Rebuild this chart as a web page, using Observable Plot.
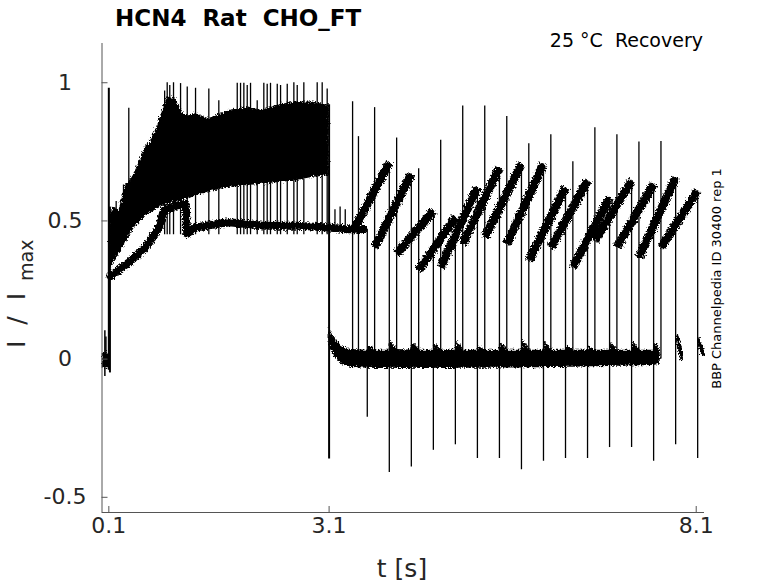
<!DOCTYPE html>
<html><head><meta charset="utf-8">
<script src="https://cdn.jsdelivr.net/npm/d3@7"></script>
<script src="https://cdn.jsdelivr.net/npm/@observablehq/plot@0.6"></script>
<style>body{margin:0;background:#fff} svg{display:block}</style>
</head><body><div id="chart"></div>
<script>
// ---------- axes ----------
const xTicks = [0.1, 3.1, 8.1];
const yTicks = [-0.5, 0, 0.5, 1];
const xDomain = [0.007, 8.213];
const yDomain = [-0.555, 1.142];

// ---------- holding baseline before the step ----------
const preT     = [0.01, 0.04, 0.07, 0.10, 0.115];
const preUpper = [0.02, 0.02, 0.025, 0.02, 0.02];
const preLower = [-0.03, -0.035, -0.03, -0.035, -0.03];
const preSpikeT    = [0.046, 0.06];
const preSpikeLow  = [-0.063, -0.03];
const preSpikeHigh = [0.103, 0.08];

// onset transients at the activating step
const onsetT    = [0.10, 0.115];
const onsetLow  = [-0.04, -0.05];
const onsetHigh = [0.98, 0.55];

// ---------- activation: envelope of the bundle of sweeps ----------
const actT     = [0.11, 0.17, 0.24, 0.33, 0.37, 0.46, 0.51, 0.60, 0.65, 0.74, 0.83, 0.90, 1.01, 1.10, 1.19, 1.28, 1.46, 1.73, 1.96, 2.19, 2.42, 2.64, 2.87, 3.05, 3.10];
const actUpper = [0.52, 0.55, 0.54, 0.63, 0.64, 0.68, 0.71, 0.77, 0.78, 0.83, 0.90, 0.95, 0.94, 0.89, 0.88, 0.89, 0.87, 0.90, 0.91, 0.90, 0.92, 0.93, 0.93, 0.92, 0.92];
const actLower = [0.32, 0.35, 0.38, 0.42, 0.44, 0.48, 0.49, 0.52, 0.525, 0.54, 0.555, 0.56, 0.567, 0.573, 0.579, 0.59, 0.605, 0.621, 0.627, 0.633, 0.639, 0.645, 0.657, 0.663, 0.663];
const actSpikeT   = [0.20, 0.30, 0.372, 0.86, 0.895, 0.93, 0.981, 1.077, 1.168, 1.281, 1.462, 1.598, 1.849, 1.894, 1.939, 1.985, 2.03, 2.121, 2.211, 2.257, 2.302, 2.394, 2.439, 2.53, 2.62, 2.666, 2.756, 2.938, 3.006, 3.074];
const actSpikeTop = [0.57, 0.63, 0.908, 0.97, 1.0, 0.99, 1.0, 0.997, 0.985, 0.98, 0.977, 0.935, 0.998, 0.998, 0.998, 0.99, 0.998, 0.935, 0.998, 0.995, 0.998, 0.995, 0.99, 0.995, 1.0, 0.99, 1.0, 1.0, 1.0, 0.977];
const actSpikeBase = 0.45;

// the single sweep that settles near 0.47
const lowT = [0.123, 0.372, 0.60, 0.781, 0.849, 1.008, 1.145, 1.168, 1.281, 1.734, 2.189, 2.643, 3.096, 3.324, 3.57];
const lowV = [0.30, 0.35, 0.404, 0.476, 0.537, 0.555, 0.561, 0.453, 0.476, 0.495, 0.483, 0.483, 0.476, 0.47, 0.47];
const lowSpikeT   = [3.18, 3.25, 3.32];
const lowSpikeTop = [0.54, 0.55, 0.54];

// ---------- step at 3.1 s ----------
const dropT = [3.10];
const dropTop = [0.92];
const dropBottom = [-0.361];

// deactivated sweeps near zero
const recT     = [3.10, 3.12, 3.19, 3.28, 3.40, 3.62, 3.64, 3.74, 3.92, 3.94, 4.04, 4.22, 4.24, 4.34, 4.52, 4.54, 4.64, 4.82, 4.84, 4.94, 5.12, 5.14, 5.24, 5.42, 5.44, 5.54, 5.72, 5.74, 5.84, 6.02, 6.04, 6.14, 6.32, 6.34, 6.44, 6.62, 6.64, 6.74, 6.92, 6.94, 7.04, 7.22, 7.24, 7.34, 7.52, 7.54, 7.61];
const recUpper = [0.12, 0.10, 0.07, 0.045, 0.035, 0.032, 0.05, 0.032, 0.032, 0.065, 0.035, 0.032, 0.06, 0.032, 0.032, 0.055, 0.032, 0.032, 0.065, 0.032, 0.032, 0.045, 0.032, 0.032, 0.06, 0.032, 0.032, 0.07, 0.032, 0.032, 0.065, 0.032, 0.032, 0.05, 0.032, 0.032, 0.045, 0.032, 0.032, 0.06, 0.032, 0.032, 0.065, 0.032, 0.032, 0.06, 0.035];
const recLower = [0.04, 0.035, 0.005, -0.02, -0.03, -0.033, -0.033, -0.034, -0.034, -0.033, -0.034, -0.034, -0.033, -0.034, -0.034, -0.033, -0.034, -0.034, -0.033, -0.033, -0.033, -0.033, -0.033, -0.033, -0.032, -0.032, -0.032, -0.031, -0.031, -0.031, -0.03, -0.03, -0.03, -0.029, -0.029, -0.028, -0.028, -0.028, -0.027, -0.026, -0.026, -0.025, -0.024, -0.024, -0.023, -0.022, -0.018];
const tail1T = [7.83, 7.86, 7.91];
const tail1V = [0.085, 0.06, 0.0];
const tail2T = [8.12, 8.15, 8.21];
const tail2V = [0.075, 0.05, 0.015];

// ---------- recovery test pulses ----------
const upT   = [3.42, 3.50, 3.72, 4.02, 4.32, 4.62, 4.92, 5.22, 5.52, 5.82, 6.12, 6.42, 6.72, 7.02, 7.32, 7.62];
const upTop = [0.931, 0.805, 0.91, 0.80, 0.689, 0.792, 0.916, 0.916, 0.878, 0.779, 0.812, 0.714, 0.837, 0.812, 0.786, 0.787];
const upBase = 0.0;

const downT      = [3.62, 3.92, 4.22, 4.52, 4.82, 5.12, 5.42, 5.72, 6.02, 6.32, 6.62, 6.92, 7.22, 7.52, 7.82, 8.12];
const downTop    = [0.47, 0.711, 0.67, 0.537, 0.513, 0.621, 0.693, 0.706, 0.706, 0.621, 0.645, 0.585, 0.645, 0.633, 0.657, 0.609];
const downBottom = [-0.21, -0.41, -0.39, -0.33, -0.31, -0.36, -0.36, -0.40, -0.37, -0.36, -0.36, -0.32, -0.32, -0.37, -0.31, -0.36];

const sawStartT = [3.42, 3.72, 4.02, 4.32, 4.62, 4.92, 5.22, 5.52, 5.82, 6.12, 6.42, 6.72, 7.02, 7.32, 7.62];
const sawStartY = [0.46, 0.404, 0.38, 0.32, 0.332, 0.416, 0.44, 0.416, 0.356, 0.404, 0.332, 0.428, 0.404, 0.368, 0.404];
const sawEndT   = [3.92, 4.22, 4.52, 4.82, 5.12, 5.42, 5.72, 6.02, 6.32, 6.62, 6.92, 7.22, 7.52, 7.82, 8.12];
const sawEndY   = [0.711, 0.67, 0.537, 0.513, 0.621, 0.693, 0.706, 0.706, 0.621, 0.645, 0.585, 0.645, 0.633, 0.657, 0.609];

// ---------- build ----------
const band = (T, U, L) => T.map((t, i) => ({t, u: U[i], l: L[i]}));
const pts = (T, V) => T.map((t, i) => ({t, v: V[i]}));
const idx = a => a.map((_, i) => i);
const INK = "#000";

const W = 778, H = 583, mL = 101.5, mR = 74, mT = 43, mB = 71;
const fw = W - mL - mR, fh = H - mT - mB;

const chart = Plot.plot({
  width: W, height: H,
  marginLeft: mL, marginRight: mR, marginTop: mT, marginBottom: mB,
  style: {fontFamily: "DejaVu Sans", fontSize: "22px", color: "#262626", background: "#fff"},
  x: {domain: xDomain, axis: null},
  y: {domain: yDomain, axis: null},
  marks: [
    Plot.areaY(band(preT, preUpper, preLower), {x: "t", y1: "l", y2: "u", fill: INK}),
    Plot.areaY(band(actT, actUpper, actLower), {x: "t", y1: "l", y2: "u", fill: INK}),
    Plot.areaY(band(recT, recUpper, recLower), {x: "t", y1: "l", y2: "u", fill: INK}),
    Plot.line(pts(lowT, lowV), {x: "t", y: "v", stroke: INK, strokeWidth: 8}),
    Plot.line(pts(tail1T, tail1V), {x: "t", y: "v", stroke: INK, strokeWidth: 4}),
    Plot.line(pts(tail2T, tail2V), {x: "t", y: "v", stroke: INK, strokeWidth: 4}),
    Plot.link(idx(sawStartT), {x1: i => sawStartT[i], y1: i => sawStartY[i], x2: i => sawEndT[i], y2: i => sawEndY[i], stroke: INK, strokeWidth: 8.5}),
    Plot.ruleX(idx(preSpikeT), {x: i => preSpikeT[i], y1: i => preSpikeLow[i], y2: i => preSpikeHigh[i], stroke: INK, strokeWidth: 1.5}),
    Plot.ruleX(idx(onsetT), {x: i => onsetT[i], y1: i => onsetLow[i], y2: i => onsetHigh[i], stroke: INK, strokeWidth: 2}),
    Plot.ruleX(idx(actSpikeT), {x: i => actSpikeT[i], y1: actSpikeBase, y2: i => actSpikeTop[i], stroke: INK, strokeWidth: 1.3}),
    Plot.ruleX(idx(lowSpikeT), {x: i => lowSpikeT[i], y1: 0.47, y2: i => lowSpikeTop[i], stroke: INK, strokeWidth: 1.3}),
    Plot.ruleX(idx(dropT), {x: i => dropT[i], y1: i => dropBottom[i], y2: i => dropTop[i], stroke: INK, strokeWidth: 2}),
    Plot.ruleX(idx(upT), {x: i => upT[i], y1: upBase, y2: i => upTop[i], stroke: INK, strokeWidth: 1.3}),
    Plot.ruleX(idx(downT), {x: i => downT[i], y1: i => downBottom[i], y2: i => downTop[i], stroke: INK, strokeWidth: 1.3}),
    // axes
    Plot.ruleX([xDomain[0]], {stroke: "#555", strokeWidth: 1}),
    Plot.ruleY([yDomain[0]], {stroke: "#555", strokeWidth: 1}),
    Plot.ruleX(xTicks, {x: d => d, insetTop: fh - 6, stroke: "#555", strokeWidth: 1}),
    Plot.ruleY(yTicks, {y: d => d, insetRight: fw - 6, stroke: "#555", strokeWidth: 1}),
    Plot.text(xTicks, {x: d => d, text: d => String(d), frameAnchor: "bottom", dy: 20.5, fontSize: 22, fill: "#262626"}),
    Plot.text(yTicks, {y: d => d, text: d => String(d), frameAnchor: "left", dx: -37, textAnchor: "middle", fontSize: 22, fill: "#262626"})
  ]
});
document.getElementById("chart").append(chart);

const svg = d3.select(chart);
// rendering style: noisy look for the recorded traces
const defs = svg.insert("defs", ":first-child");
const f = defs.append("filter").attr("id", "rough").attr("x", "-5%").attr("y", "-5%").attr("width", "110%").attr("height", "110%");
f.append("feTurbulence").attr("type", "fractalNoise").attr("baseFrequency", "0.6").attr("numOctaves", 2).attr("seed", 4).attr("result", "n");
f.append("feDisplacementMap").attr("in", "SourceGraphic").attr("in2", "n").attr("scale", 6).attr("xChannelSelector", "R").attr("yChannelSelector", "G");
svg.selectAll('g[aria-label="area"], g[aria-label="line"], g[aria-label="link"]').attr("filter", "url(#rough)");

svg.append("text").attr("x", 115).attr("y", 26).attr("text-anchor", "start")
  .attr("font-family", "DejaVu Sans").attr("font-weight", "bold").attr("font-size", 23)
  .attr("fill", "#000").style("white-space", "pre").text("HCN4  Rat  CHO_FT");
svg.append("text").attr("x", 703).attr("y", 47).attr("text-anchor", "end")
  .attr("font-family", "DejaVu Sans").attr("font-size", 19)
  .attr("fill", "#000").style("white-space", "pre").text("25 °C  Recovery");
svg.append("text").attr("transform", "translate(721,278.5) rotate(-90)").attr("text-anchor", "middle")
  .attr("font-family", "DejaVu Sans").attr("font-size", 13).attr("fill", "#000")
  .text("BBP Channelpedia ID 30400 rep 1");
svg.append("text").attr("x", 402).attr("y", 577).attr("text-anchor", "middle")
  .attr("font-family", "DejaVu Sans").attr("font-size", 25).attr("fill", "#262626")
  .text("t [s]");
const yl = svg.append("text").attr("transform", "translate(25,348) rotate(-90)").attr("text-anchor", "start")
  .attr("font-family", "DejaVu Sans").attr("font-size", 25).attr("fill", "#262626")
  .style("word-spacing", "8px");
yl.append("tspan").text("I / I");
yl.append("tspan").attr("dx", 12).attr("dy", 8).attr("font-size", 19).text("max");
</script>
</body></html>
